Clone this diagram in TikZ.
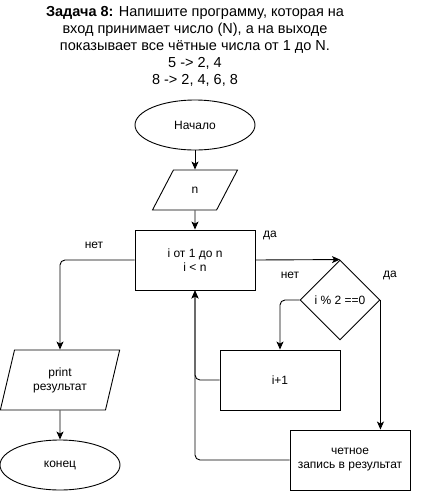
\documentclass[tikz,border=0pt]{standalone}
\usepackage{fontspec}
\setmainfont{Liberation Sans}
\usetikzlibrary{positioning,arrows,arrows.meta,shapes.geometric}

\begin{document}
\begin{tikzpicture}[x=1pt,y=-1pt,>={Stealth[length=8pt,width=7pt,inset=2pt]},
  line width=0.9pt,
  every node/.style={font=\fontsize{12}{14}\selectfont},
  term/.style={draw,ellipse,minimum width=120pt,minimum height=50pt,inner sep=0pt},
  io/.style={draw,trapezium,trapezium left angle=63.4,trapezium right angle=116.6,%
    trapezium stretches=true,minimum width=85pt,minimum height=40pt,align=center,inner sep=0pt},
  block/.style={draw,rectangle,minimum width=120pt,minimum height=60pt,align=center},
  cond/.style={draw,diamond,minimum width=80pt,minimum height=80pt,inner sep=0pt},
  line/.style={->,rounded corners=5pt}]
\useasboundingbox (0,0) rectangle (421,491);

\node[align=center,font=\fontsize{14.5}{17}\selectfont] (title) at (195,46)
  {\textbf{Задача 8:} Напишите программу, которая на\\
   вход принимает число (N), а на выходе\\
   показывает все чётные числа от 1 до N.\\
   5 -> 2, 4\\
   8 -> 2, 4, 6, 8};

\node[term]  (start) at (195,125) {Начало};
\node[io]    (in)    at (195,190) {n};
\node[block] (loop)  at (195,260) {i от 1 до n\\i < n};
\node[cond]  (even)  at (340,300) {i \% 2 ==0};
\node[block] (inc)   at (280,380) {i+1};
\node[block] (save)  at (350,460) {четное\\запись в результат};
\node[io,minimum width=120pt,minimum height=60pt,%
  trapezium left angle=71.6,trapezium right angle=108.4] (out) at (60,380) {print\\результат};
\node[term]  (stop)  at (60,465) {конец};

\node (yes1) at (270,235) {да};
\node (no1)  at (94,245)  {нет};
\node (no2)  at (290,275) {нет};
\node (yes2) at (390,275) {да};

\draw[->] (start) -- (in);
\draw[->] (in) -- (loop);
\draw[->] (loop.east) -- (even.north);
\draw[line] (loop.west) -| (out.north);
\draw[->] (out) -- (stop);
\draw[line] (even.west) -| (inc.north);
\draw[->] (even.east) -- (even.east |- save.north);
\draw[line] (inc.west) -| (loop.south);
\draw[line] (save.west) -| (loop.south);

%\draw[help lines] (0,0) grid (421,491);

\end{tikzpicture}
\end{document}
